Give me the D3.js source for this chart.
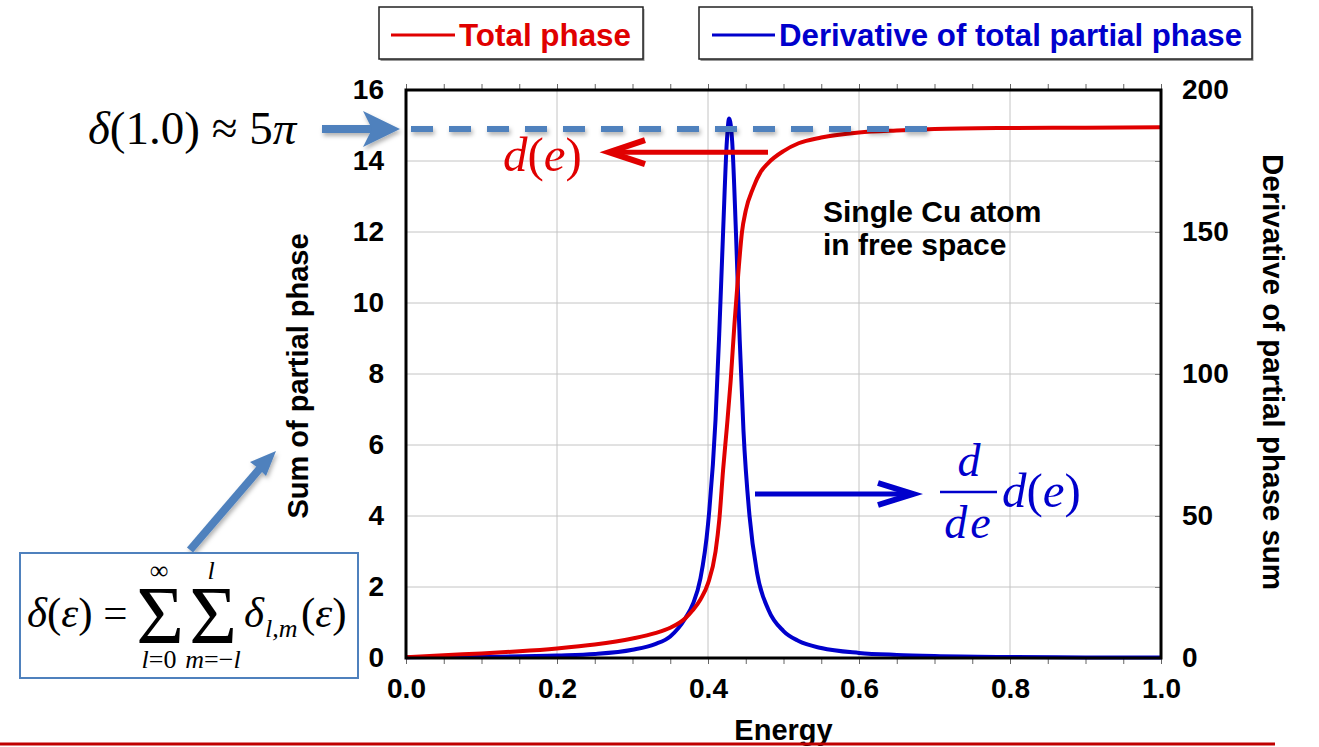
<!DOCTYPE html>
<html>
<head>
<meta charset="utf-8">
<script src="https://cdn.jsdelivr.net/npm/d3@7"></script>
<style>
  body { margin: 0; background: #fff; }
  svg { display: block; }
  text { font-family: "Liberation Sans", Arial, sans-serif; }
  .serif { font-family: "Liberation Serif", "Times New Roman", serif; }
</style>
</head>
<body>
<div id="chart"></div>
<script>
// energy grid and the two series
const energy = [0.00, 0.05, 0.10, 0.15, 0.20, 0.25, 0.30, 0.33, 0.35, 0.37, 0.38, 0.39, 0.40, 0.41, 0.415, 0.42, 0.425, 0.43, 0.435, 0.44, 0.445, 0.45, 0.46, 0.47, 0.48, 0.50, 0.52, 0.55, 0.60, 0.65, 0.70, 0.80, 0.90, 1.00]
const totalPhase = [0.02, 0.08, 0.13, 0.19, 0.27, 0.38, 0.55, 0.70, 0.85, 1.12, 1.35, 1.65, 2.10, 3.00, 3.90, 5.30, 6.50, 7.80, 9.40, 10.8, 12.0, 12.6, 13.25, 13.7, 13.95, 14.28, 14.5, 14.66, 14.8, 14.86, 14.9, 14.93, 14.94, 14.95]

const derivEnergy = [0.00, 0.10, 0.20, 0.25, 0.30, 0.33, 0.35, 0.37, 0.38, 0.39, 0.40, 0.41, 0.415, 0.42, 0.425, 0.428, 0.432, 0.437, 0.442, 0.447, 0.455, 0.465, 0.48, 0.50, 0.52, 0.55, 0.60, 0.65, 0.70, 0.80, 0.90, 1.00]
const derivative = [0.3, 0.45, 0.9, 1.4, 2.9, 4.9, 7.6, 14, 19, 28, 47, 84, 115, 150, 182, 190, 182, 150, 112, 80, 50, 30, 17, 9.5, 6, 3.5, 1.8, 1.1, 0.7, 0.35, 0.2, 0.15]

const xTicks = [0, 0.2, 0.4, 0.6, 0.8, 1.0]
const leftTicks = [0, 2, 4, 6, 8, 10, 12, 14, 16]
const rightTicks = [0, 50, 100, 150, 200]
const plateau = 14.9   // delta(1.0) ~ 5 pi

const W = 1319, H = 747
const svg = d3.select('#chart').append('svg').attr('width', W).attr('height', H)

const defs = svg.append('defs')
defs.append('filter').attr('id', 'shadow').attr('x', '-20%').attr('y', '-50%').attr('width', '140%').attr('height', '200%')
  .append('feDropShadow').attr('dx', 1.5).attr('dy', 3).attr('stdDeviation', 2).attr('flood-color', '#000').attr('flood-opacity', 0.3)

const x = d3.scaleLinear().domain([0, 1]).range([406, 1161])
const yL = d3.scaleLinear().domain([0, 16]).range([658, 90])
const yR = d3.scaleLinear().domain([0, 200]).range([658, 90])

const steel = '#4f81bd', red = '#e00000', blue = '#0000cc'

// gridlines
const grid = svg.append('g')
grid.selectAll('.gx').data(xTicks.slice(1, -1)).enter().append('line')
  .attr('x1', d => x(d)).attr('x2', d => x(d)).attr('y1', yL(0)).attr('y2', yL(16))
  .attr('stroke', '#c4c4c4').attr('stroke-width', 1)
grid.selectAll('.gy').data(d3.range(2, 16, 2)).enter().append('line')
  .attr('x1', x(0)).attr('x2', x(1)).attr('y1', d => yL(d)).attr('y2', d => yL(d))
  .attr('stroke', '#c4c4c4').attr('stroke-width', 1)

// minor ticks, inside top and bottom
const minor = d3.range(0, 1.0001, 0.05)
svg.append('g').call(d3.axisTop(x).tickValues(minor).tickSize(-6).tickFormat(''))
  .attr('transform', `translate(0,${yL(0)})`)
  .call(g => g.select('.domain').remove())
  .selectAll('line').attr('stroke', '#666')
svg.append('g').call(d3.axisBottom(x).tickValues(minor).tickSize(-6).tickFormat(''))
  .attr('transform', `translate(0,${yL(16)})`)
  .call(g => g.select('.domain').remove())
  .selectAll('line').attr('stroke', '#666')
svg.append('g').call(d3.axisLeft(yR).tickValues(d3.range(0, 201, 25)).tickSize(6).tickFormat(''))
  .attr('transform', `translate(${x(1)},0)`)
  .call(g => g.select('.domain').remove())
  .selectAll('line').attr('stroke', '#888')

// tick labels
const tickFont = g => g.selectAll('text').attr('font-size', 28).attr('font-weight', 'bold').attr('fill', '#000')
  .style('font-family', '"Liberation Sans", Arial, sans-serif')
svg.append('g').attr('transform', `translate(0,${yL(0)})`)
  .call(d3.axisBottom(x).tickValues(xTicks).tickFormat(d3.format('.1f')).tickSize(0).tickPadding(20))
  .call(g => g.select('.domain').remove()).call(tickFont)
svg.append('g').attr('transform', `translate(${x(0)},0)`)
  .call(d3.axisLeft(yL).tickValues(leftTicks).tickFormat(d3.format('d')).tickSize(0).tickPadding(22))
  .call(g => g.select('.domain').remove()).call(tickFont)
svg.append('g').attr('transform', `translate(${x(1)},0)`)
  .call(d3.axisRight(yR).tickValues(rightTicks).tickFormat(d3.format('d')).tickSize(0).tickPadding(21))
  .call(g => g.select('.domain').remove()).call(tickFont)

// curves
const redLine = d3.line().x((d, i) => x(energy[i])).y(d => yL(d)).curve(d3.curveMonotoneX)
const blueLine = d3.line().x((d, i) => x(derivEnergy[i])).y(d => yR(d)).curve(d3.curveMonotoneX)
svg.append('path').datum(derivative).attr('d', blueLine).attr('fill', 'none')
  .attr('stroke', blue).attr('stroke-width', 4).attr('stroke-linejoin', 'round')
svg.append('path').datum(totalPhase).attr('d', redLine).attr('fill', 'none')
  .attr('stroke', red).attr('stroke-width', 4).attr('stroke-linejoin', 'round')

// frame
svg.append('rect').attr('x', x(0)).attr('y', yL(16)).attr('width', x(1) - x(0)).attr('height', yL(0) - yL(16))
  .attr('fill', 'none').attr('stroke', '#000').attr('stroke-width', 3)

// axis titles
svg.append('text').attr('x', x(0.5)).attr('y', 740).attr('text-anchor', 'middle')
  .attr('font-size', 29).attr('font-weight', 'bold').text('Energy')
svg.append('text').attr('transform', `translate(308,${yL(8) + 2}) rotate(-90)`).attr('text-anchor', 'middle')
  .attr('font-size', 29).attr('font-weight', 'bold').text('Sum of partial phase')
svg.append('text').attr('transform', `translate(1263,${yL(8) - 2}) rotate(90)`).attr('text-anchor', 'middle')
  .attr('font-size', 29.5).attr('font-weight', 'bold').text('Derivative of partial phase sum')

// legend boxes
function legendBox(x0, x1, lineX0, lineX1, color, label, len) {
  const g = svg.append('g')
  g.append('rect').attr('x', x0 + 1.5).attr('y', 9).attr('width', x1 - x0).attr('height', 52).attr('fill', '#999')
  g.append('rect').attr('x', x0).attr('y', 7).attr('width', x1 - x0).attr('height', 52)
    .attr('fill', '#fff').attr('stroke', '#222').attr('stroke-width', 1.5)
  g.append('line').attr('x1', lineX0).attr('x2', lineX1).attr('y1', 35).attr('y2', 35)
    .attr('stroke', color).attr('stroke-width', 3)
  g.append('text').attr('x', lineX1 + 4).attr('y', 46).attr('font-size', 31).attr('font-weight', 'bold')
    .attr('fill', color).attr('textLength', len).attr('lengthAdjust', 'spacingAndGlyphs').text(label)
}
legendBox(379, 643, 391, 455, red, 'Total phase', 172)
legendBox(699, 1252, 712, 775, blue, 'Derivative of total partial phase', 463)

// annotation: delta(1.0) ~ 5 pi with dashed plateau line
svg.append('text').attr('class', 'serif').attr('x', 88).attr('y', 144).attr('font-size', 47)
  .html('<tspan font-style="italic">δ</tspan>(1.0) ≈ 5<tspan font-style="italic">π</tspan>')
const shadowG = svg.append('g').attr('filter', 'url(#shadow)')
shadowG.append('line').attr('x1', 322).attr('x2', 372).attr('y1', yL(plateau)).attr('y2', yL(plateau))
  .attr('stroke', steel).attr('stroke-width', 8)
shadowG.append('path').attr('fill', steel)
  .attr('d', `M400,${yL(plateau)} L363,${yL(plateau) - 18} L372,${yL(plateau)} L363,${yL(plateau) + 18} Z`)
shadowG.append('line').attr('x1', 411).attr('x2', 930).attr('y1', yL(plateau)).attr('y2', yL(plateau))
  .attr('stroke', steel).attr('stroke-width', 6).attr('stroke-dasharray', '22,16')

// red arrow to d(e)
const ra = yL(14.25)
svg.append('line').attr('x1', 768).attr('x2', 609).attr('y1', ra).attr('y2', ra)
  .attr('stroke', red).attr('stroke-width', 5)
svg.append('polyline').attr('points', `645,${ra - 12} 609,${ra} 645,${ra + 12}`)
  .attr('fill', 'none').attr('stroke', red).attr('stroke-width', 6).attr('stroke-linejoin', 'miter')
svg.append('text').attr('class', 'serif').attr('x', 503).attr('y', 171).attr('font-size', 49).attr('fill', red)
  .html('<tspan font-style="italic">d</tspan>(<tspan font-style="italic">e</tspan>)')

// Single Cu atom label
svg.append('text').attr('x', 823).attr('y', 222).attr('font-size', 30).attr('font-weight', 'bold').text('Single Cu atom')
svg.append('text').attr('x', 823).attr('y', 255).attr('font-size', 30).attr('font-weight', 'bold').text('in free space')

// blue arrow to d/de d(e)
const ba = 494
svg.append('line').attr('x1', 755).attr('x2', 913).attr('y1', ba).attr('y2', ba)
  .attr('stroke', blue).attr('stroke-width', 5)
svg.append('polyline').attr('points', `878,${ba - 11} 913,${ba} 878,${ba + 11}`)
  .attr('fill', 'none').attr('stroke', blue).attr('stroke-width', 6).attr('stroke-linejoin', 'miter')
svg.append('line').attr('x1', 940).attr('x2', 997).attr('y1', 492).attr('y2', 492)
  .attr('stroke', blue).attr('stroke-width', 2.5)
svg.append('text').attr('class', 'serif').attr('x', 969).attr('y', 476).attr('text-anchor', 'middle')
  .attr('font-size', 46).attr('font-style', 'italic').attr('fill', blue).text('d')
svg.append('text').attr('class', 'serif').attr('x', 969).attr('y', 538).attr('text-anchor', 'middle')
  .attr('font-size', 46).attr('font-style', 'italic').attr('fill', blue).attr('letter-spacing', 3).text('de')
svg.append('text').attr('class', 'serif').attr('x', 1002).attr('y', 507).attr('font-size', 49).attr('fill', blue)
  .html('<tspan font-style="italic">d</tspan>(<tspan font-style="italic">e</tspan>)')

// diagonal arrow from formula box to left axis title
const diag = svg.append('g').attr('filter', 'url(#shadow)')
diag.append('line').attr('x1', 190).attr('y1', 550).attr('x2', 262).attr('y2', 466)
  .attr('stroke', steel).attr('stroke-width', 8)
diag.append('path').attr('fill', steel).attr('d', 'M276,451 L250,462 L258,468 L266,476 Z')

// formula box
svg.append('rect').attr('x', 20).attr('y', 553).attr('width', 338).attr('height', 125)
  .attr('fill', '#fff').attr('stroke', steel).attr('stroke-width', 2)
const f = svg.append('g').attr('class', 'serif')
f.append('text').attr('class', 'serif').attr('x', 27).attr('y', 627).attr('font-size', 43)
  .html('<tspan font-style="italic">δ</tspan>(<tspan font-style="italic">ε</tspan>) =')
f.append('text').attr('class', 'serif').attr('x', 160).attr('y', 643).attr('text-anchor', 'middle').attr('font-size', 82).text('Σ')
f.append('text').attr('class', 'serif').attr('x', 213).attr('y', 643).attr('text-anchor', 'middle').attr('font-size', 82).text('Σ')
f.append('text').attr('class', 'serif').attr('x', 159).attr('y', 579).attr('text-anchor', 'middle').attr('font-size', 26).text('∞')
f.append('text').attr('class', 'serif').attr('x', 159).attr('y', 668).attr('text-anchor', 'middle').attr('font-size', 26)
  .html('<tspan font-style="italic">l</tspan>=0')
f.append('text').attr('class', 'serif').attr('x', 211).attr('y', 579).attr('text-anchor', 'middle').attr('font-size', 26)
  .attr('font-style', 'italic').text('l')
f.append('text').attr('class', 'serif').attr('x', 213).attr('y', 668).attr('text-anchor', 'middle').attr('font-size', 26)
  .html('<tspan font-style="italic">m</tspan>=−<tspan font-style="italic">l</tspan>')
f.append('text').attr('class', 'serif').attr('x', 244).attr('y', 627).attr('font-size', 43).attr('font-style', 'italic').text('δ')
f.append('text').attr('class', 'serif').attr('x', 265).attr('y', 637).attr('font-size', 26).attr('font-style', 'italic').text('l,m')
f.append('text').attr('class', 'serif').attr('x', 301).attr('y', 627).attr('font-size', 43)
  .html('(<tspan font-style="italic">ε</tspan>)')

// bottom rule
svg.append('line').attr('x1', 0).attr('x2', 1275).attr('y1', 744).attr('y2', 744)
  .attr('stroke', '#c00000').attr('stroke-width', 3)
</script>
</body>
</html>
